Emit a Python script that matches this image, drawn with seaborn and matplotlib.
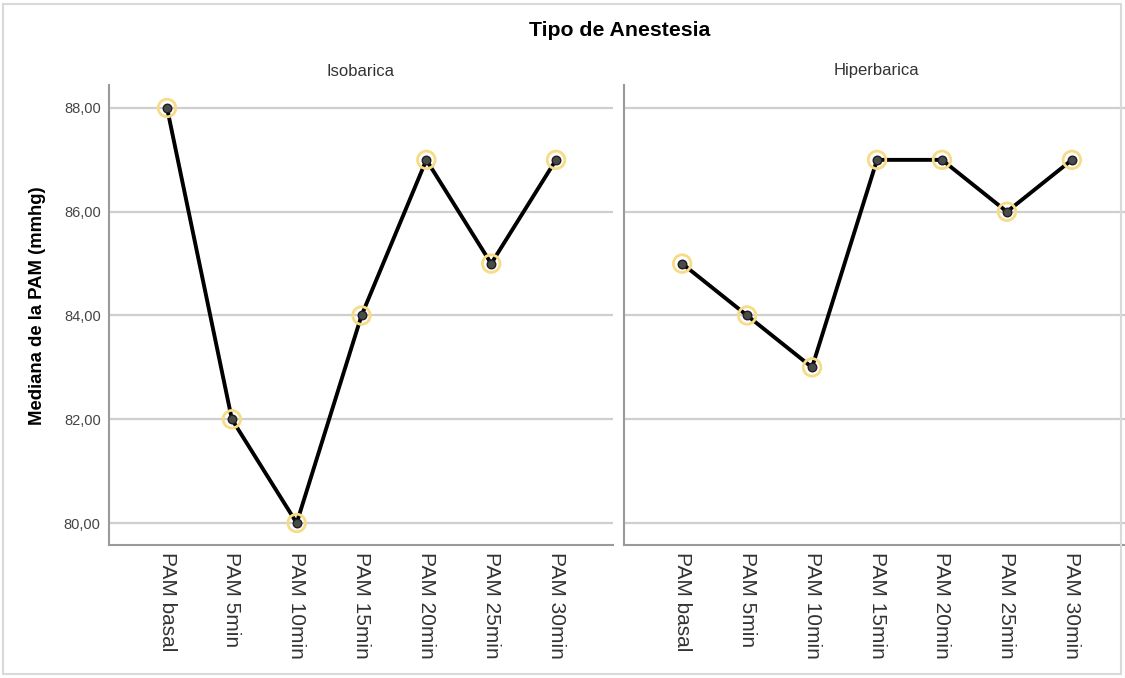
import pandas as pd
import seaborn as sns
import matplotlib.pyplot as plt
from matplotlib.patches import Rectangle

tiempos = ['PAM basal', 'PAM 5min', 'PAM 10min', 'PAM 15min', 'PAM 20min', 'PAM 25min', 'PAM 30min']
isobarica = [88, 82, 80, 84, 87, 85, 87]
hiperbarica = [85, 84, 83, 87, 87, 86, 87]
grupos = ['Isobarica', 'Hiperbarica']
yticks = [80, 82, 84, 86, 88]

df = pd.DataFrame({
    'Tiempo': tiempos * 2,
    'x': list(range(len(tiempos))) * 2,
    'PAM': isobarica + hiperbarica,
    'Tipo': ['Isobarica'] * len(tiempos) + ['Hiperbarica'] * len(tiempos),
})

sns.set_style("white")
plt.rcParams['font.family'] = ['Liberation Sans', 'DejaVu Sans']

W, H = 1125, 678
fig = plt.figure(figsize=(W / 100, H / 100), dpi=100)

# panel boxes in pixels: left, right
boxes = [(109, 613), (624, 1129)]
top_px, bot_px = 85, 545

for i, (grupo, (x0, x1)) in enumerate(zip(grupos, boxes)):
    ax = fig.add_axes([x0 / W, 1 - bot_px / H, (x1 - x0) / W, (bot_px - top_px) / H])
    sub = df[df['Tipo'] == grupo]
    sns.lineplot(data=sub, x='x', y='PAM', color='black', lw=2.8, ax=ax, zorder=3)
    sns.scatterplot(data=sub, x='x', y='PAM', s=160, facecolor='none',
                    edgecolor='#F6DC86', linewidth=2.0, ax=ax, zorder=4)
    sns.scatterplot(data=sub, x='x', y='PAM', s=38, color='#4a4a4a',
                    edgecolor='#1e1e1e', linewidth=1.0, ax=ax, zorder=5)
    ax.set_xlim(-0.895, 6.879)
    ax.set_ylim(79.576, 88.443)
    ax.set_yticks(yticks)
    ax.yaxis.grid(True, color='#cfcfcf', lw=1.6)
    ax.set_axisbelow(True)
    ax.set_xticks(range(len(tiempos)))
    ax.set_xticklabels(tiempos, rotation=270, fontsize=15, color='#333333', va='top', ha='center')
    ax.tick_params(axis='x', length=0, pad=5)
    if i == 0:
        ax.set_yticklabels([f'{v:.2f}'.replace('.', ',') for v in yticks], fontsize=10.5, color='#444444')
        ax.tick_params(axis='y', length=0, pad=6)
    else:
        ax.set_yticklabels([])
        ax.tick_params(axis='y', length=0)
    ax.set_xlabel('')
    ax.set_ylabel('')
    for s in ['top', 'right']:
        ax.spines[s].set_visible(False)
    for s in ['left', 'bottom']:
        ax.spines[s].set_color('#9a9a9a')
        ax.spines[s].set_linewidth(1.5)
    fig.text((x0 + x1) / 2 / W, 1 - 71 / H, grupo, ha='center', va='center',
             fontsize=12, color='#333333')

fig.text(620 / W, 1 - 30 / H, 'Tipo de Anestesia', ha='center', va='center',
         fontsize=15.3, fontweight='bold', color='black')
fig.text(38 / W, 1 - 306 / H, 'Mediana de la PAM (mmhg)', ha='center', va='center',
         rotation=90, fontsize=13.3, fontweight='bold', color='black')

fig.patches.append(Rectangle((3 / W, 4 / H), 1118 / W, 670 / H, transform=fig.transFigure,
                             fill=False, edgecolor='#d9d9d9', lw=1.5, zorder=10))

fig.savefig('out.png', dpi=100)
